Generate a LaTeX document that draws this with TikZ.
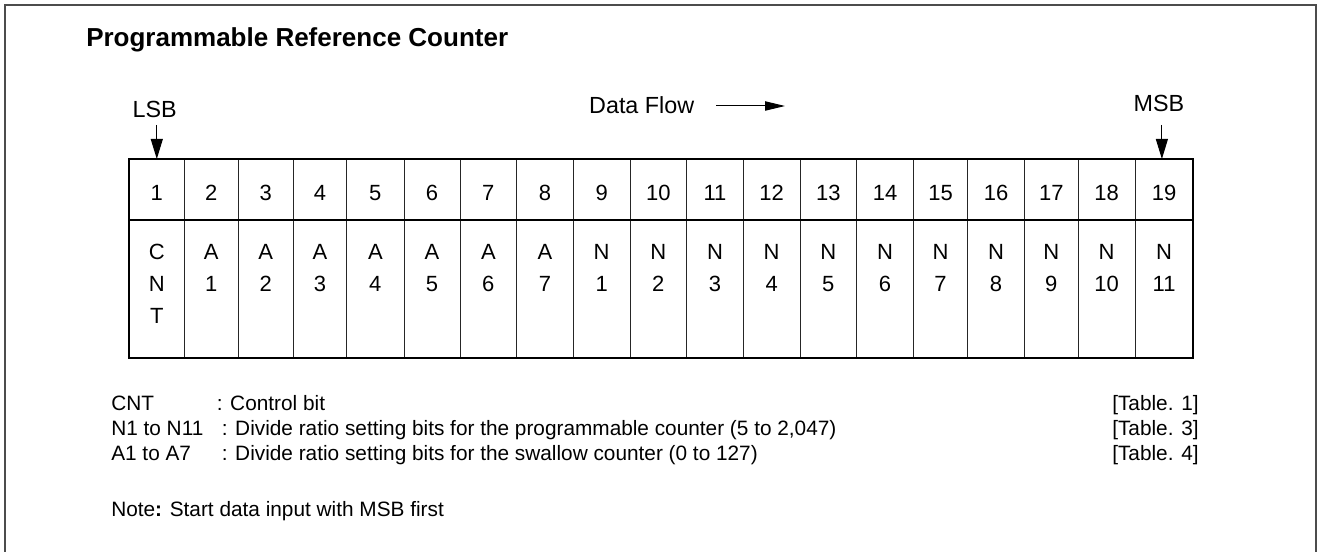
\documentclass[tikz,border=0pt]{standalone}
\usepackage{fontspec}
\setmainfont{Liberation Sans}
\usetikzlibrary{arrows.meta,calc}
\tikzset{
  frame/.style={draw=black!70,line width=1pt},
  cell/.style={draw=black!85,line width=0.75pt,inner sep=0pt,outer sep=0pt},
  border/.style={draw=black,line width=1.6pt},
  tabtxt/.style={inner sep=0pt,anchor=base,font=\fontsize{16.5pt}{19pt}\selectfont},
  lbl/.style={inner sep=0pt,font=\fontsize{17.5pt}{20pt}\selectfont},
  leg/.style={inner sep=0pt,anchor=base west,font=\fontsize{15.6pt}{18pt}\selectfont},
  titlestyle/.style={inner sep=0pt,anchor=base west,font=\fontsize{19.5pt}{23pt}\selectfont\bfseries},
  arr/.style={line width=0.75pt,-{Triangle[length=15pt,width=9pt]}},
  arrflow/.style={line width=0.75pt,-{Triangle[length=15pt,width=7pt]}}
}
\begin{document}
\begin{tikzpicture}[x=0.75pt,y=-0.75pt]
\useasboundingbox (0,0) rectangle (1320,552);
% outer frame
\draw[frame] (5,552) -- (5,5) -- (1316,5) -- (1316,552);
% title
\node[titlestyle] (title) at (86,46.7) {Programmable Reference Counter};
% table cells
\foreach \l/\r [count=\i] in {129.3/184.3,184.3/238.3,238.3/293.3,293.3/346.7,346.7/404,404/460,460/516.7,516.7/573.3,573.3/630,630/686.7,686.7/743.3,743.3/800,800/856.7,856.7/913.3,913.3/967.7,967.7/1024.3,1024.3/1078.3,1078.3/1135,1135/1193.3}{
  \pgfmathsetmacro\w{(\r-\l)*0.75}
  \pgfmathsetmacro\cx{(\l+\r)/2}
  \node[cell,minimum width=\w pt,minimum height=45.75pt] (c\i) at (\cx,189.5) {};
  \node[cell,minimum width=\w pt,minimum height=103.5pt] (b\i) at (\cx,289) {};
  \node[tabtxt] (n\i) at (\cx,200.4) {\i};
}
\draw[border] (c1.north west) rectangle (b19.south east);
\draw[border] (c1.south west) -- (c19.south east);
% bit names
\node[tabtxt] (p1) at (c1 |- 0,259.9) {C};
\node[tabtxt] (q1) at (c1 |- 0,291.9) {N};
\node[tabtxt] (r1) at (c1 |- 0,323.9) {T};
\foreach \a/\b [count=\i from 2] in {A/1,A/2,A/3,A/4,A/5,A/6,A/7,N/1,N/2,N/3,N/4,N/5,N/6,N/7,N/8,N/9,N/10,N/11}{
  \node[tabtxt] (p\i) at (c\i |- 0,259.9) {\a};
  \node[tabtxt] (q\i) at (c\i |- 0,291.9) {\b};
}
% LSB / MSB / data flow
\node[lbl,anchor=base] (lsb) at (154.7,117.3) {LSB};
\node[lbl,anchor=base] (msb) at (1159,111.7) {MSB};
\draw[arr] (c1.north |- 0,125) -- (c1.north);
\draw[arr] ([xshift=-1.7pt]c19.north |- 0,125) -- ([xshift=-1.7pt]c19.north);
\node[lbl,anchor=base] (df) at (641.7,113.3) {Data Flow};
\coordinate (dfs) at (716,106);
\coordinate (dfe) at (785,106);
\draw[arrflow] (dfs) -- (dfe);
% legend
\node[leg] (k1) at (111,410) {CNT};
\node[leg] (d1) at (216.5,410) {: Control bit};
\node[leg] (t1) at (1112,410) {[Table. 1]};
\node[leg] (k2) at (111,435.7) {N1 to N11};
\node[leg] (d2) at (221.5,435.7) {: Divide ratio setting bits for the programmable counter (5 to 2,047)};
\node[leg] (t2) at (1112,435.7) {[Table. 3]};
\node[leg] (k3) at (111,460.7) {A1 to A7};
\node[leg] (d3) at (221.5,460.7) {: Divide ratio setting bits for the swallow counter (0 to 127)};
\node[leg] (t3) at (1112,460.7) {[Table. 4]};
\node[leg] (note) at (111,516.7) {Note\textbf{:} Start data input with MSB first};
\end{tikzpicture}
\end{document}
